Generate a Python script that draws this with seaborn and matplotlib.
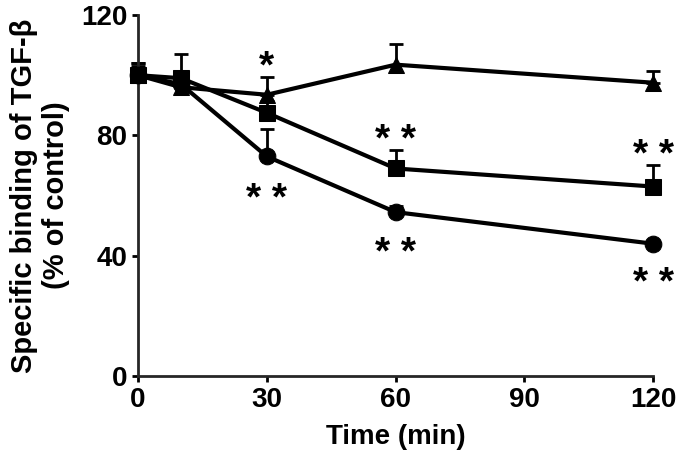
import numpy as np
import pandas as pd
import matplotlib
matplotlib.use("Agg")
import matplotlib.pyplot as plt
import seaborn as sns

# Dados
tempo = [0, 10, 30, 60, 120]
triangulo = [100, 96, 93.5, 103.5, 97.5]
triangulo_err = [4, 3, 6, 7, 4]
quadrado = [100, 99, 87.5, 69, 63]
quadrado_err = [4, 8, 4, 6, 7]
circulo = [100, 97, 73, 54.5, 44]
circulo_err = [3, 3, 9, 2, 1]

# estrelas (x, y, texto)
estrelas_x = [30, 30, 60, 60, 120, 120]
estrelas_y = [102.5, 58.5, 78, 40.5, 73, 30.5]
estrelas_txt = ["*", "* *", "* *", "* *", "* *", "* *"]

df = pd.DataFrame({
    "Tempo": tempo * 3,
    "Valor": triangulo + quadrado + circulo,
    "Grupo": ["tri"] * 5 + ["quad"] * 5 + ["circ"] * 5,
})

sns.set_style("ticks")
plt.rcParams["font.family"] = ["Liberation Sans", "DejaVu Sans"]
plt.rcParams["font.weight"] = "bold"
plt.rcParams["text.color"] = "black"
plt.rcParams["axes.labelcolor"] = "black"
plt.rcParams["xtick.color"] = "black"
plt.rcParams["ytick.color"] = "black"

fig = plt.figure(figsize=(6.85, 4.69), dpi=100)
ax = fig.add_axes([0.2015, 0.198, 0.752, 0.77])

# Barras de erro só para cima
for y, e in [(triangulo, triangulo_err), (quadrado, quadrado_err), (circulo, circulo_err)]:
    eb = ax.errorbar(tempo, y, yerr=[np.zeros(len(e)), e], fmt="none", ecolor="black",
                     elinewidth=2, capsize=5, capthick=2, zorder=2)
    for artista in eb.lines[1] + eb.lines[2]:
        artista.set_clip_on(False)

sns.lineplot(data=df, x="Tempo", y="Valor", style="Grupo", hue="Grupo",
             markers={"tri": "^", "quad": "s", "circ": "o"}, dashes=False,
             palette={"tri": "black", "quad": "black", "circ": "black"},
             markersize=12, linewidth=3, markeredgecolor="black", legend=False, ax=ax, zorder=3,
             clip_on=False)

for x, y, t in zip(estrelas_x, estrelas_y, estrelas_txt):
    ax.text(x, y, t, ha="center", va="center", fontsize=28, fontweight="bold")

ax.set_xlim(0, 120)
ax.set_ylim(0, 120)
ax.set_xticks([0, 30, 60, 90, 120])
ax.set_yticks([0, 40, 80, 120])
ax.tick_params(labelsize=20, width=2, length=4)
for s in ["left", "bottom"]:
    ax.spines[s].set_linewidth(2)
sns.despine(ax=ax)

ax.set_xlabel("Time (min)", fontsize=20, fontweight="bold", labelpad=8)
ax.set_ylabel("Specific binding of TGF-β\n(% of control)", fontsize=21, fontweight="bold",
              linespacing=1.2, labelpad=8)

fig.savefig("out.png", dpi=100)
